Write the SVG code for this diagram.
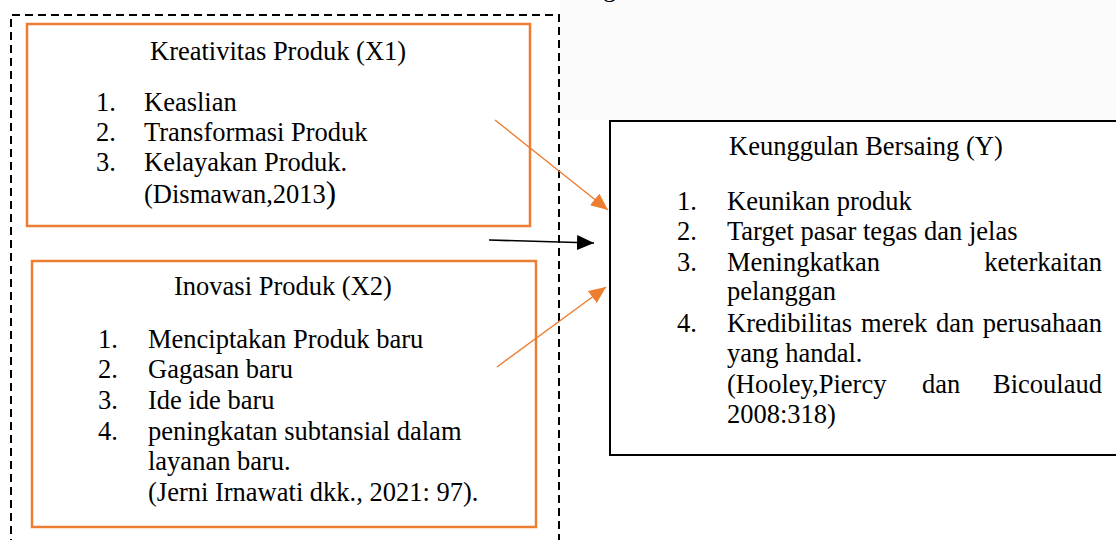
<svg xmlns="http://www.w3.org/2000/svg" width="1116" height="540" viewBox="0 0 1116 540">
<style>
.t{font-family:"Liberation Serif","Times New Roman",serif;font-size:26.5px;fill:#000}
.ob{fill:#fff;stroke:#ED7D31;stroke-width:2.5}
.bb{fill:#fff;stroke:#000;stroke-width:2}
.oc{stroke:#ED7D31;stroke-width:1.4;fill:none}
.bc{stroke:#000;stroke-width:1.6;fill:none}
</style>
<defs>
<marker id="ao" markerUnits="userSpaceOnUse" markerWidth="17" markerHeight="15" refX="17" refY="7.5" orient="auto"><path d="M0,0 L17,7.5 L0,15 z" fill="#ED7D31"/></marker>
<marker id="ab" markerUnits="userSpaceOnUse" markerWidth="17" markerHeight="15" refX="17" refY="7.5" orient="auto"><path d="M0,0 L17,7.5 L0,15 z" fill="#000"/></marker>
</defs>
<rect x="0" y="0" width="1116" height="540" fill="#fff"/>
<rect x="560" y="0" width="556" height="120" fill="#fbfbfb"/>
<text class="t" x="603" y="-4">g</text>
<g id="frame"><path d="M11,560 L11,15 L559,15 L559,560" fill="none" stroke="#000" stroke-width="2" stroke-dasharray="8,5"/></g>
<g id="x1">
<rect class="ob" x="27" y="24" width="503" height="202"/>
<text class="t" x="150" y="60">Kreativitas Produk (X1)</text>
<text class="t" x="96" y="111">1.</text><text class="t" x="144" y="111">Keaslian</text>
<text class="t" x="96" y="141">2.</text><text class="t" x="144" y="141">Transformasi Produk</text>
<text class="t" x="96" y="171">3.</text><text class="t" x="144" y="171">Kelayakan Produk.</text>
<text class="t" x="144" y="203">(Dismawan,2013<tspan font-size="31">)</tspan></text>
</g>
<g id="x2">
<rect class="ob" x="32" y="261" width="504" height="266"/>
<text class="t" x="174" y="295">Inovasi Produk (X2)</text>
<text class="t" x="98" y="348">1.</text><text class="t" x="148" y="348">Menciptakan Produk baru</text>
<text class="t" x="98" y="378">2.</text><text class="t" x="148" y="378">Gagasan baru</text>
<text class="t" x="98" y="409">3.</text><text class="t" x="148" y="409">Ide ide baru</text>
<text class="t" x="98" y="440">4.</text><text class="t" x="148" y="440">peningkatan subtansial dalam</text>
<text class="t" x="148" y="470">layanan baru.</text>
<text class="t" x="148" y="501">(Jerni Irnawati dkk., 2021: 97).</text>
</g>
<g id="y">
<rect class="bb" x="610" y="121" width="510" height="334"/>
<text class="t" x="729" y="155">Keunggulan Bersaing (Y)</text>
<text class="t" x="677" y="210">1.</text><text class="t" x="727" y="210">Keunikan produk</text>
<text class="t" x="677" y="240">2.</text><text class="t" x="727" y="240">Target pasar tegas dan jelas</text>
<text class="t" x="677" y="271">3.</text><text class="t" x="727" y="271">Meningkatkan</text><text class="t" x="1102" y="271" text-anchor="end">keterkaitan</text>
<text class="t" x="727" y="300">pelanggan</text>
<text class="t" x="677" y="332">4.</text><text class="t" x="727" y="332">Kredibilitas</text><text class="t" x="861" y="332">merek</text><text class="t" x="936" y="332">dan</text><text class="t" x="1102" y="332" text-anchor="end">perusahaan</text>
<text class="t" x="727" y="362">yang handal.</text>
<text class="t" x="727" y="393">(Hooley,Piercy</text><text class="t" x="922" y="393">dan</text><text class="t" x="1102" y="393" text-anchor="end">Bicoulaud</text>
<text class="t" x="727" y="423">2008:318)</text>
</g>
<g id="connectors">
<line class="oc" x1="495" y1="120" x2="608" y2="210" marker-end="url(#ao)"/>
<line class="bc" x1="489" y1="240" x2="594" y2="243" marker-end="url(#ab)"/>
<line class="oc" x1="497" y1="367" x2="606" y2="287" marker-end="url(#ao)"/>
</g>
</svg>
